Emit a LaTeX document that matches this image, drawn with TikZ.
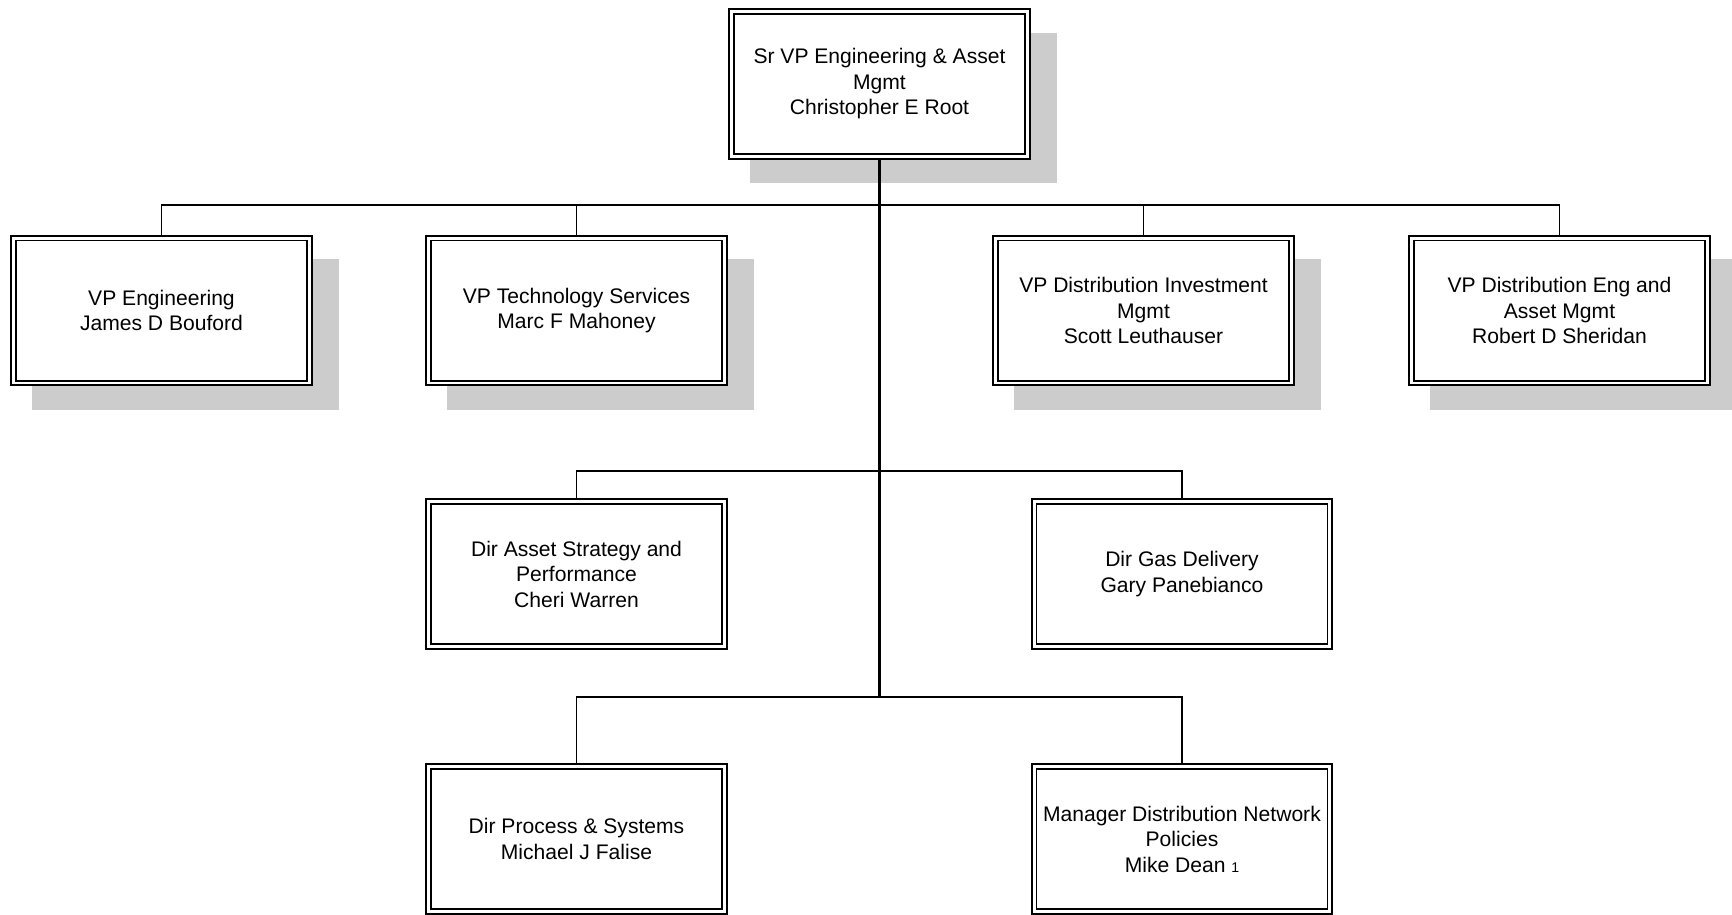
\documentclass[tikz,border=0pt]{standalone}
\usepackage{fontspec}
\setmainfont{Liberation Sans}
\usetikzlibrary{shadows}

\tikzset{
  orgbox/.style={draw, double, line width=1.1pt, double distance=1.7pt, fill=white,
                 minimum width=5.92cm, minimum height=2.9cm, align=center, outer sep=2pt,
                 font=\fontsize{12}{14.5}\selectfont},
  shadebox/.style={orgbox, drop shadow={shadow xshift=.46cm, shadow yshift=-.46cm, shadow scale=1.04, fill=black!20, opacity=1}},
  branch/.style={line width=1.1pt},
  spine/.style={line width=2pt}
}

\begin{document}
\begin{tikzpicture}[x=0.02cm, y=-0.02cm]
                \useasboundingbox (0,0) rectangle (1732,914);

                \node[shadebox] (root) at (879.5,84) {Sr VP Engineering \& Asset\\Mgmt\\Christopher E Root};

                \node[shadebox] (vpeng) at (161.5,310.5) {VP Engineering\\James D Bouford};
                \node[shadebox] (vptech) at (576.5,310.5) {VP Technology Services\\Marc F Mahoney};
                \node[shadebox] (vpinv) at (1143.5,310.5) {VP Distribution Investment\\Mgmt\\Scott Leuthauser};
                \node[shadebox] (vpasset) at (1559.5,310.5) {VP Distribution Eng and\\Asset Mgmt\\Robert D Sheridan};

                \node[orgbox] (dirasset) at (576.5,574) {Dir Asset Strategy and\\Performance\\Cheri Warren};
                \node[orgbox] (dirgas) at (1182,574) {Dir Gas Delivery\\Gary Panebianco};

                \node[orgbox] (dirproc) at (576.5,839) {Dir Process \& Systems\\Michael J Falise};
                \node[orgbox] (mgrnet) at (1182,839) {Manager Distribution Network\\Policies\\Mike Dean {\fontsize{8}{8}\selectfont 1}};

                \coordinate (busvp) at (879.5,205);
                \coordinate (busdir) at (879.5,471);
                \coordinate (busbot) at (879.5,697);

                \draw[spine] (root.south) -- (busbot);

                \draw[branch] (busvp) -| (vpeng.north);
                \draw[branch] (busvp) -| (vptech.north);
                \draw[branch] (busvp) -| (vpinv.north);
                \draw[branch] (busvp) -| (vpasset.north);

                \draw[branch] (busdir) -| (dirasset.north);
                \draw[branch] (busdir) -| (dirgas.north);

                \draw[branch] (busbot) -| (dirproc.north);
                \draw[branch] (busbot) -| (mgrnet.north);
\end{tikzpicture}
\end{document}
